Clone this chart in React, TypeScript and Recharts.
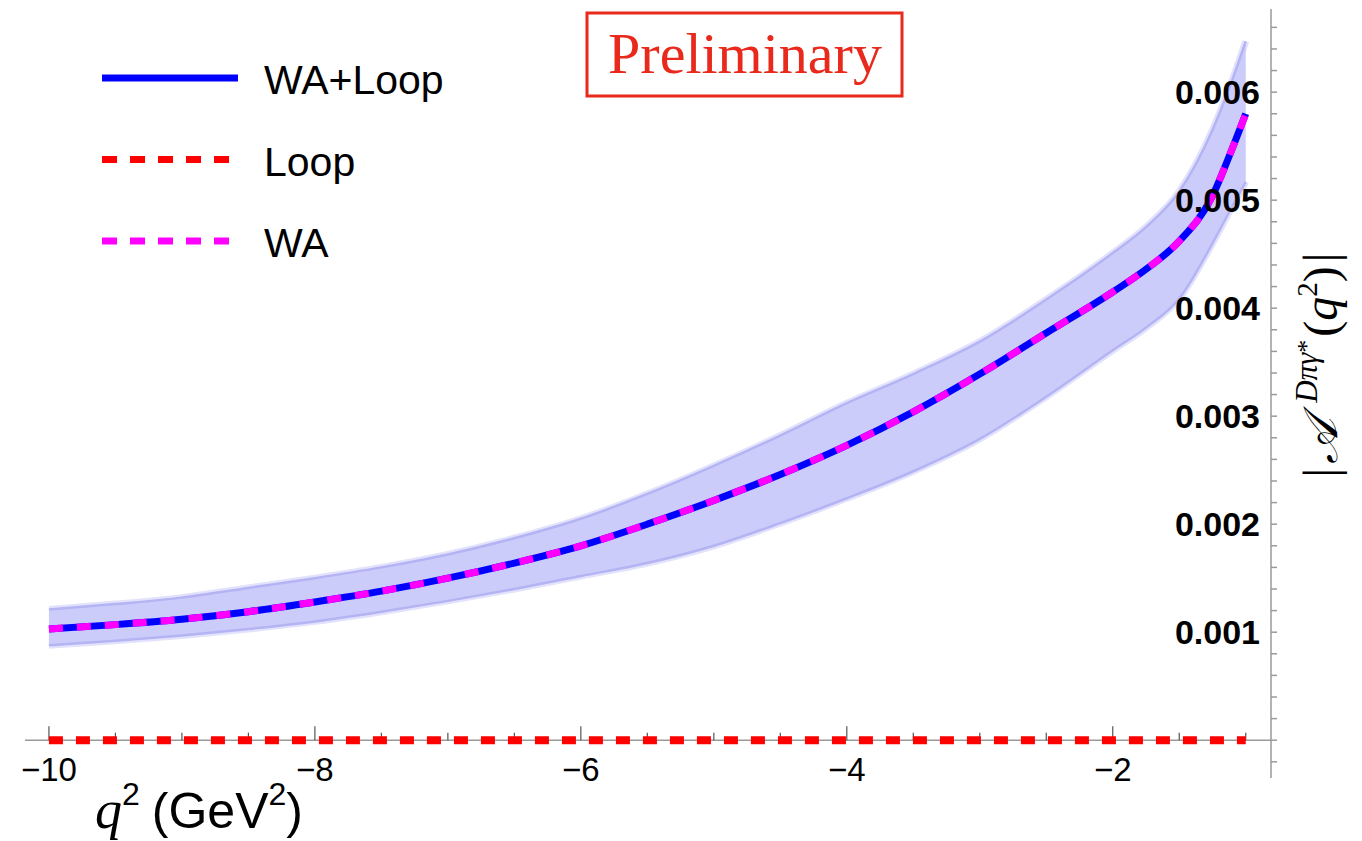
import React from 'react';
import { ComposedChart, Area, Line, XAxis, YAxis, ReferenceLine } from 'recharts';

// q^2 grid (GeV^2)
const qSquared = [-10, -9.5, -9, -8.5, -8, -7.5, -7, -6.5, -6, -5.5, -5, -4.5, -4, -3.5, -3, -2.5, -2, -1.75, -1.5, -1.25, -1.12, -1];

// |A(q^2)| central curves
const waLoop = [0.00103, 0.00107, 0.00112, 0.00119, 0.00128, 0.00138, 0.0015, 0.00164, 0.0018, 0.002, 0.00222, 0.00246, 0.00273, 0.00304, 0.00339, 0.00377, 0.00415, 0.00436, 0.00462, 0.00504, 0.00542, 0.0058];
const wa = [0.00103, 0.00107, 0.00112, 0.00119, 0.00128, 0.00138, 0.0015, 0.00164, 0.0018, 0.002, 0.00222, 0.00246, 0.00273, 0.00304, 0.00339, 0.00377, 0.00415, 0.00436, 0.00462, 0.00504, 0.00542, 0.0058];
const loop = [0, 0, 0, 0, 0, 0, 0, 0, 0, 0, 0, 0, 0, 0, 0, 0, 0, 0, 0, 0, 0, 0];

// uncertainty band of WA+Loop
const bandLow = [0.00088, 0.00092, 0.00097, 0.00103, 0.0011, 0.00119, 0.00129, 0.0014, 0.00152, 0.00164, 0.0018, 0.00201, 0.00224, 0.00249, 0.00279, 0.00318, 0.00361, 0.00382, 0.00409, 0.0046, 0.0049, 0.00517];
const bandHigh = [0.00121, 0.00126, 0.00132, 0.00141, 0.0015, 0.0016, 0.00172, 0.00187, 0.00205, 0.00228, 0.00254, 0.00282, 0.00312, 0.00339, 0.00369, 0.00408, 0.00451, 0.00475, 0.00508, 0.00565, 0.00605, 0.00647];

// axes
const xMajorTicks = [-10, -8, -6, -4, -2];
const xTickLabels = ['\u221210', '\u22128', '\u22126', '\u22124', '\u22122'];
const xMinorTicks = [-9.5, -9, -8.5, -7.5, -7, -6.5, -5.5, -5, -4.5, -3.5, -3, -2.5, -1.5, -1];
const yTicks = [
  -0.0002, 0, 0.0002, 0.0004, 0.0006, 0.0008, 0.001, 0.0012, 0.0014, 0.0016, 0.0018,
  0.002, 0.0022, 0.0024, 0.0026, 0.0028, 0.003, 0.0032, 0.0034, 0.0036, 0.0038,
  0.004, 0.0042, 0.0044, 0.0046, 0.0048, 0.005, 0.0052, 0.0054, 0.0056, 0.0058,
  0.006, 0.0062, 0.0064, 0.0066,
];
const yMajorTicks = [0.001, 0.002, 0.003, 0.004, 0.005, 0.006];
const yTickLabels = ['0.001', '0.002', '0.003', '0.004', '0.005', '0.006'];

const legendItems = [
  { name: 'WA+Loop', color: '#0000ff', dash: undefined },
  { name: 'Loop', color: '#ff0000', dash: '15 13' },
  { name: 'WA', color: '#ff00ff', dash: '15 13' },
];

const data = qSquared.map((q, i) => ({
  q,
  waLoop: waLoop[i],
  wa: wa[i],
  loop: loop[i],
  band: [bandLow[i], bandHigh[i]],
}));

const SANS = '"Liberation Sans", Arial, sans-serif';
const SERIF = '"Liberation Serif", "Times New Roman", serif';
const AXIS_GRAY = '#9a9a9a';

const YTick = (props: any) => {
  const { x, y, payload } = props;
  const idx = yMajorTicks.findIndex((v) => Math.abs(v - payload.value) < 1e-9);
  return (
    <g>
      <line x1={x} x2={x + 6} y1={y} y2={y} stroke={AXIS_GRAY} strokeWidth={1.5} />
      {idx >= 0 && (
        <text x={x - 11} y={y} textAnchor="end" dominantBaseline="central" fontFamily={SANS}
          fontWeight="bold" fontSize={34} fill="#000">
          {yTickLabels[idx]}
        </text>
      )}
    </g>
  );
};

export default function App() {
  return (
    <div style={{ position: 'absolute', left: 0, top: 0, width: 1362, height: 841, background: '#fff' }}>
      <ComposedChart width={1362} height={841} data={data}
        margin={{ top: 9, right: 90, bottom: 63, left: 25 }}>
        <XAxis dataKey="q" type="number" domain={[-10.18, -0.81]} allowDataOverflow hide />
        <YAxis orientation="right" type="number" domain={[-0.00035, 0.00677]} allowDataOverflow
          ticks={yTicks} interval={0} width={1} tickSize={0} tickMargin={0} tickLine={false}
          axisLine={{ stroke: AXIS_GRAY, strokeWidth: 1.5 }} tick={<YTick />} />

        <Area dataKey="band" type="monotone" fill="none" stroke="#e2e2fc" strokeWidth={7}
          isAnimationActive={false} />
        <Area dataKey="band" type="monotone" fill="#ccccfa" fillOpacity={1} stroke="#b4b4f4"
          strokeWidth={2.5} isAnimationActive={false} />

        <ReferenceLine y={0} stroke={AXIS_GRAY} strokeWidth={1.5} />
        {xMajorTicks.map((t, i) => (
          <ReferenceLine key={`maj-${t}`} segment={[{ x: t, y: 0 }, { x: t, y: 0.00013 }]}
            stroke="#555" strokeWidth={1.2}
            label={{ value: xTickLabels[i], position: 'bottom', offset: 17, fontSize: 33, fill: '#000', fontFamily: SANS }} />
        ))}
        {xMinorTicks.map((t) => (
          <ReferenceLine key={`min-${t}`} segment={[{ x: t, y: 0 }, { x: t, y: 0.00007 }]}
            stroke="#555" strokeWidth={1.2} />
        ))}

        <Line dataKey="waLoop" type="monotone" stroke="#0000ff" strokeWidth={7} dot={false}
          isAnimationActive={false} />
        <Line dataKey="wa" type="monotone" stroke="#ff00ff" strokeWidth={7} strokeDasharray="14 14"
          dot={false} isAnimationActive={false} />
        <Line dataKey="loop" type="linear" stroke="#ff0000" strokeWidth={8} strokeDasharray="14 13"
          dot={false} isAnimationActive={false} />
      </ComposedChart>

      <svg width={1362} height={841} style={{ position: 'absolute', left: 0, top: 0, pointerEvents: 'none' }}>
        {/* legend */}
        {legendItems.map((item, i) => {
          const y = 78 + i * 81.5;
          return (
            <g key={item.name}>
              <line x1={102} x2={238} y1={y} y2={y} stroke={item.color} strokeWidth={7}
                strokeDasharray={item.dash} />
              <text x={264} y={y + 2} dominantBaseline="central" fontFamily={SANS} fontSize={41} fill="#000">
                {item.name}
              </text>
            </g>
          );
        })}

        {/* preliminary stamp */}
        <rect x={587} y={13} width={315} height={83} fill="none" stroke="#e8291c" strokeWidth={3} />
        <text x={745} y={73} textAnchor="middle" fontFamily={SERIF} fontSize={58} fill="#e8291c">
          Preliminary
        </text>

        {/* x axis title */}
        <text x={95} y={828} fontFamily={SANS} fontSize={50} fill="#000">
          <tspan fontFamily={SERIF} fontStyle="italic" fontSize={54}>q</tspan>
          <tspan fontSize={32} dy={-23}>2</tspan>
          <tspan dy={23} dx={12}>(GeV</tspan>
          <tspan fontSize={32} dy={-23}>2</tspan>
          <tspan dy={23}>)</tspan>
        </text>

        {/* y axis title */}
        <text x={1337} y={365} transform="rotate(-90 1337 365)" textAnchor="middle"
          fontFamily={SERIF} fontSize={48} fill="#000">
          <tspan>|</tspan>
          <tspan fontStyle="italic" dx={4}>{'\u{1D49C}'}</tspan>
          <tspan fontSize={31} dy={-20} dx={16} fontStyle="italic">D&#960;&#947;</tspan>
          <tspan fontSize={26} dy={-2}>*</tspan>
          <tspan dy={22} dx={3}>(</tspan>
          <tspan fontStyle="italic">q</tspan>
          <tspan fontSize={29} dy={-20}>2</tspan>
          <tspan dy={20}>)</tspan>
          <tspan dx={4}>|</tspan>
        </text>
      </svg>
    </div>
  );
}
